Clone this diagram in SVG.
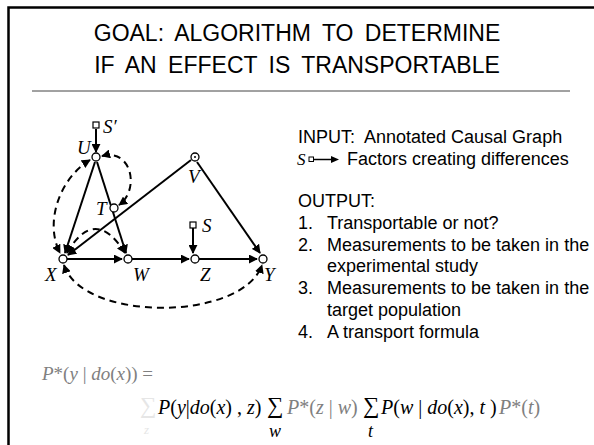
<svg xmlns="http://www.w3.org/2000/svg" width="594" height="445" viewBox="0 0 594 445">
<style>
.ttl{font-family:"Liberation Sans",Arial,sans-serif;font-size:23px;fill:#000;text-anchor:middle;word-spacing:5px}
.txt{font-family:"Liberation Sans",Arial,sans-serif;font-size:18px;fill:#000}
.lbl{font-family:"Liberation Serif","Times New Roman",serif;font-style:italic;font-size:19px;fill:#000}
.m{font-family:"Liberation Serif","Times New Roman",serif;font-size:20px}
.sg{font-family:"Liberation Serif","Times New Roman",serif;font-size:23px}
.sub{font-family:"Liberation Serif","Times New Roman",serif;font-style:italic;font-size:18px}
.i{font-style:italic}
.g{fill:#808080}
.k{fill:#000}
.f{fill:#e6e6e6}
.e{fill:none;stroke:#000;stroke-width:2;marker-end:url(#ah)}
.d{fill:none;stroke:#000;stroke-width:2;stroke-dasharray:7,5;marker-start:url(#as);marker-end:url(#ah)}
.n{fill:#fff;stroke:#000;stroke-width:1.3}
.sq{fill:#fff;stroke:#000;stroke-width:1.2}
</style>
<defs>
<marker id="ah" viewBox="0 0 10 10" refX="9" refY="5" markerWidth="4.5" markerHeight="4.5" orient="auto" markerUnits="strokeWidth"><path d="M0,0 L10,5 L0,10 z" fill="#000"/></marker>
<marker id="as" viewBox="0 0 10 10" refX="1" refY="5" markerWidth="4.5" markerHeight="4.5" orient="auto" markerUnits="strokeWidth"><path d="M10,0 L0,5 L10,10 z" fill="#000"/></marker>
</defs>
<rect width="594" height="445" fill="#fff"/>
<path d="M8.5,445 V7.5 H594" fill="none" stroke="#000" stroke-width="2.5"/>
<text class="ttl" x="297" y="41">GOAL: ALGORITHM TO DETERMINE</text>
<text class="ttl" x="297" y="73">IF AN EFFECT IS TRANSPORTABLE</text>
<line x1="32" y1="91" x2="570" y2="91" stroke="#444" stroke-width="1"/>

<g id="connectors">
<path class="e" d="M96,129 V152"/>
<path class="e" d="M95,162 L65,253"/>
<path class="e" d="M191,160 L68,255"/>
<path class="e" d="M97,162 L126,253"/>
<path class="e" d="M197,162 L260,253"/>
<path class="e" d="M67,259 H122"/>
<path class="e" d="M132,259 H189"/>
<path class="e" d="M199,259 H257"/>
<path class="e" d="M193,228 V253"/>
<path class="d" d="M90,160 C60,178 44,222 60,253"/>
<path class="d" d="M102,156 C132,148 140,190 119,205"/>
<path class="d" d="M67,253 Q95,205 125,253"/>
<path class="d" d="M64,265 C82,322 242,322 262,265"/>
</g>

<g id="node-Sp"><rect class="sq" x="93" y="122" width="6" height="6"/><text class="lbl" x="103" y="133">S′</text></g>
<g id="node-U"><circle class="n" cx="96" cy="157" r="4"/><text class="lbl" x="77" y="154">U</text></g>
<g id="node-V"><circle class="n" cx="195" cy="157" r="4"/><circle cx="195" cy="157" r="1" fill="#000"/><text class="lbl" x="188" y="183">V</text></g>
<g id="node-T"><circle class="n" cx="114" cy="208" r="4"/><text class="lbl" x="96" y="215">T</text></g>
<g id="node-S"><rect class="sq" x="190" y="222" width="6" height="6"/><text class="lbl" x="202" y="232">S</text></g>
<g id="node-X"><circle class="n" cx="63" cy="259" r="4"/><text class="lbl" x="45" y="281">X</text></g>
<g id="node-W"><circle class="n" cx="128" cy="259" r="4"/><text class="lbl" x="133" y="281">W</text></g>
<g id="node-Z"><circle class="n" cx="195" cy="259" r="4"/><text class="lbl" x="200" y="281">Z</text></g>
<g id="node-Y"><circle class="n" cx="263" cy="259" r="4"/><text class="lbl" x="264" y="281">Y</text></g>

<g id="legend">
<text class="txt" x="298" y="143" xml:space="preserve">INPUT:  Annotated Causal Graph</text>
<text class="lbl" x="297" y="165" style="font-size:17px">S</text>
<rect x="309" y="157" width="4.5" height="4.5" fill="#fff" stroke="#000" stroke-width="1"/>
<path d="M313.5,159.5 H333" stroke="#000" stroke-width="1.5"/>
<path d="M331,156 L339,159.5 L331,163 z" fill="#000"/>
<text class="txt" x="347" y="165">Factors creating differences</text>
<text class="txt" x="298" y="207">OUTPUT:</text>
<text class="txt" x="298" y="229">1.</text><text class="txt" x="327" y="229">Transportable or not?</text>
<text class="txt" x="298" y="251">2.</text><text class="txt" x="327" y="251">Measurements to be taken in the</text>
<text class="txt" x="327" y="272">experimental study</text>
<text class="txt" x="298" y="294">3.</text><text class="txt" x="327" y="294">Measurements to be taken in the</text>
<text class="txt" x="327" y="316">target population</text>
<text class="txt" x="298" y="338">4.</text><text class="txt" x="327" y="338">A transport formula</text>
</g>

<g id="formula">
<text class="m g" x="42" y="380" style="font-size:19px"><tspan class="i">P</tspan>*(<tspan class="i">y</tspan> | <tspan class="i">do</tspan>(<tspan class="i">x</tspan>)) =</text>
<text class="sg f" x="140" y="413">∑</text>
<text class="sub f" x="144" y="434" style="font-size:13px">z</text>
<text class="m k" x="158" y="414"><tspan class="i">P</tspan>(<tspan class="i">y</tspan>|<tspan class="i">do</tspan>(<tspan class="i">x</tspan>) , <tspan class="i">z</tspan>)</text>
<text class="sg k" x="267" y="413">∑</text>
<text class="sub k" x="269" y="437">w</text>
<text class="m g" x="287" y="414"><tspan class="i">P</tspan>*(<tspan class="i">z</tspan> | <tspan class="i">w</tspan>)</text>
<text class="sg k" x="363" y="413">∑</text>
<text class="sub k" x="368" y="437">t</text>
<text class="m k" x="381" y="414"><tspan class="i">P</tspan>(<tspan class="i">w</tspan> | <tspan class="i">do</tspan>(<tspan class="i">x</tspan>), <tspan class="i">t</tspan> )</text>
<text class="m g" x="499" y="414"><tspan class="i">P</tspan>*(<tspan class="i">t</tspan>)</text>
</g>
</svg>
